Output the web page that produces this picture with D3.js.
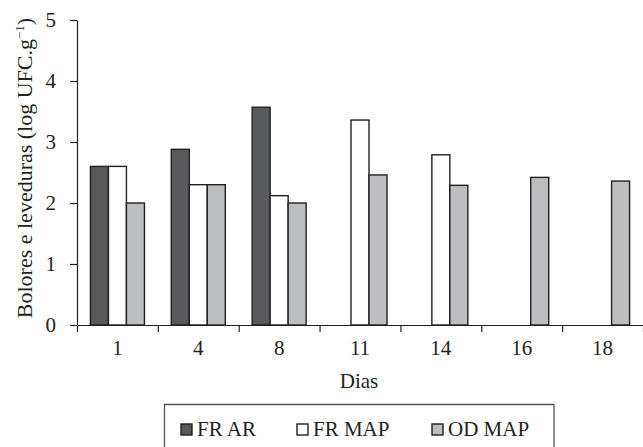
<!DOCTYPE html>
<html>
<head>
<meta charset="utf-8">
<script src="https://cdn.jsdelivr.net/npm/d3@7"></script>
</head>
<body style="margin:0;background:#fff">
<div id="root"></div>
<script>
const days = ["1", "4", "8", "11", "14", "16", "18"];
const seriesNames = ["FR AR", "FR MAP", "OD MAP"];
const frAR  = [2.6, 2.88, 3.57, null, null, null, null];
const frMAP = [2.6, 2.3, 2.12, 3.36, 2.79, null, null];
const odMAP = [2.0, 2.3, 2.0, 2.46, 2.29, 2.42, 2.36];
const yTicks = [0, 1, 2, 3, 4, 5];
const colors = ["#58595b", "#ffffff", "#bcbec0"];

(function () {
const FONT = "Liberation Serif";
const FS = "21px";
const series = [frAR, frMAP, odMAP];
const svg = d3.select("#root").append("svg").attr("width", 643).attr("height", 447)
  .style("display", "block").style("font-family", FONT);
const mLeft = 77, mRight = 643, mTop = 20, mBottom = 325;
const ink = "#231f20";

const x0 = d3.scaleBand().domain(days).range([mLeft, mRight]).padding(0);
const bw = x0.bandwidth();
const x1 = d3.scaleBand().domain(seriesNames).range([bw * 0.166, bw * 0.834]).padding(0);
const y = d3.scaleLinear().domain([0, 5]).range([mBottom, mTop]);

// bars
const data = [];
days.forEach((d, i) => series.forEach((s, j) => {
  if (s[i] != null) data.push({ day: d, name: seriesNames[j], v: s[i], c: colors[j] });
}));
svg.append("g").selectAll("rect").data(data).join("rect")
  .attr("x", d => x0(d.day) + x1(d.name))
  .attr("y", d => y(d.v))
  .attr("width", x1.bandwidth())
  .attr("height", d => y(0) - y(d.v))
  .attr("fill", d => d.c)
  .attr("stroke", ink)
  .attr("stroke-width", 1.4);

// y axis
const yAx = svg.append("g").attr("transform", `translate(${mLeft},0)`)
  .call(d3.axisLeft(y).tickValues(yTicks).tickFormat(d3.format("d")).tickSize(7).tickSizeOuter(0).tickPadding(14));
yAx.attr("font-family", FONT).attr("font-size", 21);
yAx.selectAll("text").attr("font-family", FONT).style("font-family", FONT).style("font-size", FS).attr("fill", ink);
yAx.selectAll("line,path").attr("stroke", ink).attr("stroke-width", 1.2);

// x axis: baseline + boundary ticks
const xb = d3.scaleLinear().domain([0, days.length]).range([mLeft, mRight]);
const xAx = svg.append("g").attr("transform", `translate(0,${mBottom})`)
  .call(d3.axisBottom(xb).tickValues(d3.range(days.length + 1)).tickFormat("").tickSize(7).tickSizeOuter(0));
xAx.selectAll("line,path").attr("stroke", ink).attr("stroke-width", 1.2);

const xLab = svg.append("g").attr("transform", `translate(0,${mBottom})`)
  .call(d3.axisBottom(x0).tickSize(0).tickPadding(15));
xLab.attr("font-family", FONT).attr("font-size", 21);
xLab.select(".domain").remove();
xLab.selectAll("text").attr("font-family", FONT).style("font-family", FONT).style("font-size", FS).attr("fill", ink);

// axis titles
svg.append("text").attr("x", 359).attr("y", 388).attr("text-anchor", "middle")
  .attr("font-family", FONT).style("font-family", FONT).style("font-size", FS).attr("fill", ink).text("Dias");
const yt = svg.append("text").attr("transform", "translate(32,168) rotate(-90)")
  .attr("text-anchor", "middle").attr("font-family", FONT).style("font-family", FONT).style("font-size", "22px").attr("fill", ink);
yt.append("tspan").text("Bolores e leveduras (log UFC.g");
yt.append("tspan").attr("dy", -8).style("font-size", "13px").text("−1");
yt.append("tspan").attr("dy", 8).text(")");

// legend
svg.append("path").attr("d", "M164.5,447 V404.5 H554 V447")
  .attr("fill", "none").attr("stroke", "#555").attr("stroke-width", 1.3);
const legX = [181, 297, 432];
seriesNames.forEach((n, i) => {
  svg.append("rect").attr("x", legX[i]).attr("y", 424).attr("width", 11).attr("height", 11)
    .attr("fill", colors[i]).attr("stroke", ink).attr("stroke-width", 1.4);
  svg.append("text").attr("x", legX[i] + 16).attr("y", 436)
    .attr("font-family", FONT).style("font-family", FONT).style("font-size", FS).attr("fill", ink).text(n);
});
})();
</script>
</body>
</html>
